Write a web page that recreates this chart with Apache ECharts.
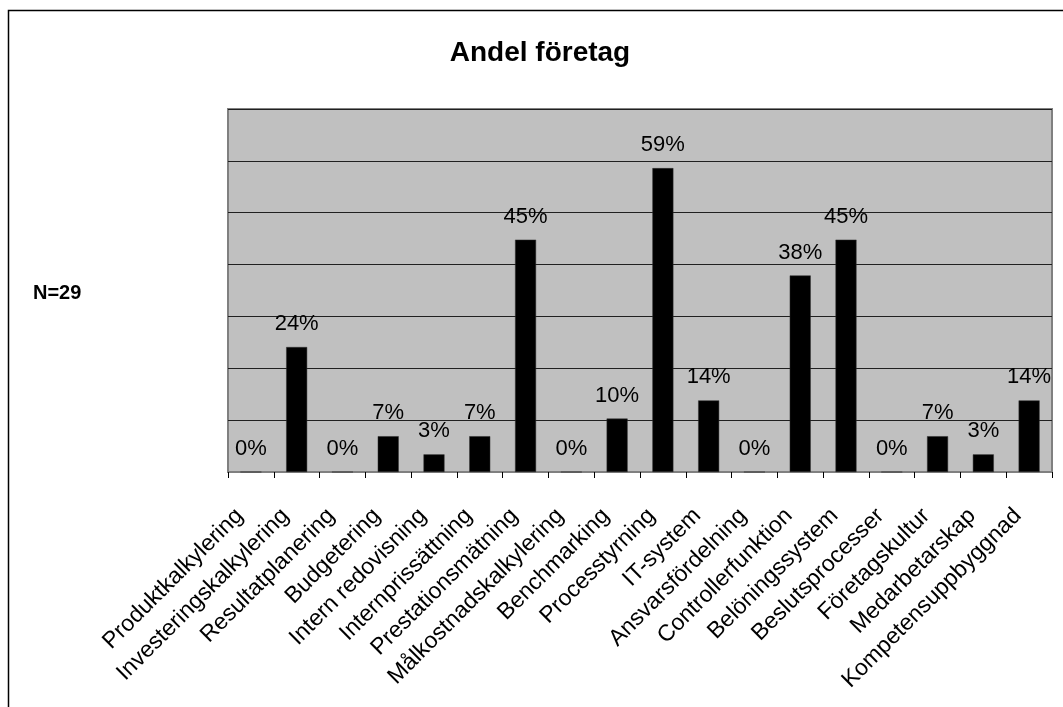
<!DOCTYPE html>
<html>
<head>
<meta charset="utf-8">
<script src="https://cdn.jsdelivr.net/npm/echarts@6/dist/echarts.min.js"></script>
<style>
html,body{margin:0;padding:0;background:#fff;}
#chart{width:1063px;height:707px;}
</style>
</head>
<body>
<div id="chart"></div>
<script>
const categories = ["Produktkalkylering","Investeringskalkylering","Resultatplanering","Budgetering","Intern redovisning","Internprissättning","Prestationsmätning","Målkostnadskalkylering","Benchmarking","Processtyrning","IT-system","Ansvarsfördelning","Controllerfunktion","Belöningssystem","Beslutsprocesser","Företagskultur","Medarbetarskap","Kompetensuppbyggnad"];
const shares = [0, 24.1, 0, 6.9, 3.4, 6.9, 44.8, 0, 10.3, 58.6, 13.8, 0, 37.9, 44.8, 0, 6.9, 3.4, 13.8];
const titleText = "Andel företag";
const noteText = "N=29";

const chart = echarts.init(document.getElementById('chart'), null, {renderer: 'canvas'});
const font = "'Liberation Sans', Arial, sans-serif";
chart.setOption({
  animation: false,
  backgroundColor: '#ffffff',
  textStyle: {fontFamily: font},
  grid: {
    left: 228, top: 109, right: 11, bottom: 235,
    show: true, backgroundColor: '#c0c0c0', borderColor: '#808080', borderWidth: 2
  },
  xAxis: {
    type: 'category',
    data: categories,
    axisLine: {show: true, lineStyle: {color: '#808080', width: 2}},
    axisTick: {show: true, length: 6, lineStyle: {color: '#000', width: 1}},
    axisLabel: {
      interval: 0, rotate: 45, margin: 29, padding: [0, 16, 0, 0],
      fontSize: 23, color: '#000', fontFamily: font
    }
  },
  yAxis: {
    type: 'value', min: 0, max: 70, interval: 10,
    axisLine: {show: false}, axisTick: {show: false}, axisLabel: {show: false},
    splitLine: {show: true, lineStyle: {color: '#202020', width: 1}}
  },
  series: [{
    type: 'bar',
    data: shares,
    barWidth: 21,
    itemStyle: {color: '#000000', borderColor: '#333', borderWidth: 0.5},
    label: {
      show: true, position: 'top', distance: 12,
      fontSize: 22, color: '#000', fontFamily: font,
      formatter: p => Math.round(p.value) + '%'
    }
  }],
  graphic: [
    {type: 'rect', silent: true, z: 100,
     shape: {x: 8.5, y: 10.5, width: 1200, height: 900},
     style: {fill: 'none', stroke: '#000', lineWidth: 1.5}},
    {type: 'text', x: 540, y: 53, z: 100,
     style: {text: titleText, font: "bold 28px " + font, fill: '#000', textAlign: 'center', textVerticalAlign: 'middle'}},
    {type: 'text', x: 33, y: 293, z: 100,
     style: {text: noteText, font: "bold 20px " + font, fill: '#000', textAlign: 'left', textVerticalAlign: 'middle'}}
  ]
});
</script>
</body>
</html>
